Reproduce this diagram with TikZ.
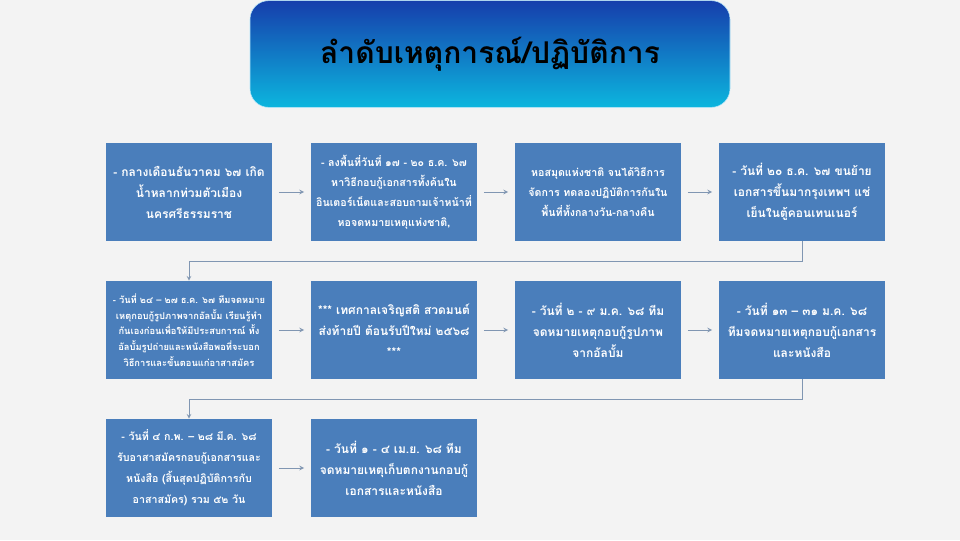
\documentclass[tikz,border=0pt]{standalone}
\usepackage{fontspec}
\newfontfamily\thaifont[Script=Thai]{Loma}
\usetikzlibrary{shapes,arrows,positioning,calc}
\definecolor{boxblue}{RGB}{74,126,187}
\definecolor{linkgray}{RGB}{128,150,178}
\definecolor{titletop}{RGB}{22,62,172}
\definecolor{titlebottom}{RGB}{12,182,222}
\definecolor{paper}{RGB}{243,243,243}

\begin{document}
\begin{tikzpicture}[x=0.75pt, y=-0.75pt,
    event/.style={fill=boxblue, text=white, minimum width=124.5pt, minimum height=73.5pt,
        align=center, inner sep=1pt, font=\thaifont\bfseries\fontsize{9}{15.75}\selectfont},
    eventmid/.style={event, font=\thaifont\bfseries\fontsize{8}{15.75}\selectfont},
    eventsmall/.style={event, font=\thaifont\bfseries\fontsize{8}{15}\selectfont},
    eventtiny/.style={event, font=\thaifont\bfseries\fontsize{7}{11.75}\selectfont},
    titlebar/.style={top color=titletop, bottom color=titlebottom, draw=white!70!cyan,
        rounded corners=14pt, minimum width=360pt, minimum height=80pt,
        font=\thaifont\bfseries\fontsize{22.5}{26}\selectfont, text=black},
    link/.style={draw=linkgray, line width=0.6pt, ->, >=stealth},
]
    \useasboundingbox (0,0) rectangle (960,540);
    \fill[paper] (0,0) rectangle (960,540);

    % Title
    \node[titlebar] (title) at (490,54) {ลำดับเหตุการณ์/ปฏิบัติการ};

    % Row 1
    \node[event] (b1) at (189,192) {- กลางเดือนธันวาคม ๖๗ เกิด\\น้ำหลากท่วมตัวเมือง\\นครศรีธรรมราช};
    \node[eventsmall] (b2) at (394,192) {- ลงพื้นที่วันที่ ๑๗ - ๒๐ ธ.ค. ๖๗\\หาวิธีกอบกู้เอกสารทั้งค้นใน\\อินเตอร์เน็ตและสอบถามเจ้าหน้าที่\\หอจดหมายเหตุแห่งชาติ,};
    \node[eventsmall] (b3) at (598,192) {หอสมุดแห่งชาติ จนได้วิธีการ\\จัดการ ทดลองปฏิบัติการกันใน\\พื้นที่ทั้งกลางวัน-กลางคืน};
    \node[event] (b4) at (802,192) {- วันที่ ๒๐ ธ.ค. ๖๗ ขนย้าย\\เอกสารขึ้นมากรุงเทพฯ แช่\\เย็นในตู้คอนเทนเนอร์};

    % Row 2
    \node[eventtiny] (b5) at (189,330) {- วันที่ ๒๔ – ๒๗ ธ.ค. ๖๗ ทีมจดหมาย\\เหตุกอบกู้รูปภาพจากอัลบั้ม เรียนรู้ทำ\\กันเองก่อนเพื่อให้มีประสบการณ์ ทั้ง\\อัลบั้มรูปถ่ายและหนังสือพอที่จะบอก\\วิธีการและขั้นตอนแก่อาสาสมัคร};
    \node[event] (b6) at (394,330) {*** เทศกาลเจริญสติ สวดมนต์\\ส่งท้ายปี ต้อนรับปีใหม่ ๒๕๖๘\\***};
    \node[event] (b7) at (598,330) {- วันที่ ๒ - ๙ ม.ค. ๖๘ ทีม\\จดหมายเหตุกอบกู้รูปภาพ\\จากอัลบั้ม};
    \node[event] (b8) at (802,330) {- วันที่ ๑๓ – ๓๑ ม.ค. ๖๘\\ทีมจดหมายเหตุกอบกู้เอกสาร\\และหนังสือ};

    % Row 3
    \node[eventmid] (b9) at (189,468) {- วันที่ ๔ ก.พ. – ๒๘ มี.ค. ๖๘\\รับอาสาสมัครกอบกู้เอกสารและ\\หนังสือ (สิ้นสุดปฏิบัติการกับ\\อาสาสมัคร) รวม ๕๒ วัน};
    \node[event] (b10) at (394,468) {- วันที่ ๑ - ๔ เม.ย. ๖๘ ทีม\\จดหมายเหตุเก็บตกงานกอบกู้\\เอกสารและหนังสือ};

    % Connectors
    \foreach \a/\b in {b1/b2, b2/b3, b3/b4, b5/b6, b6/b7, b7/b8, b9/b10}
        \draw[link, shorten <=5pt, shorten >=5pt] (\a.east) -- (\b.west);
    \draw[link] (b4.south) -- ++(0,20) -| (b5.north);
    \draw[link] (b8.south) -- ++(0,20) -| (b9.north);
\end{tikzpicture}
\end{document}
